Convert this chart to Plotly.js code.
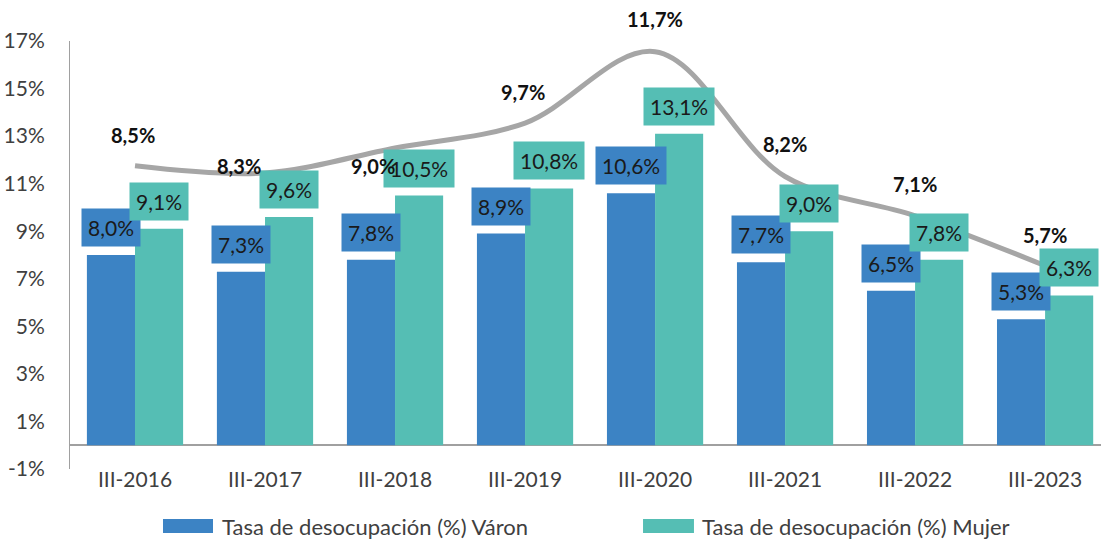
<!DOCTYPE html>
<html>
<head>
<meta charset="utf-8">
<script src="https://cdn.plot.ly/plotly-3.0.1.min.js"></script>
<style>
html,body{margin:0;padding:0;background:#ffffff;}
#chart{width:1101px;height:541px;}
</style>
</head>
<body>
<div id="chart"></div>
<script>
// ---- data ----
const categories = ['III-2016','III-2017','III-2018','III-2019','III-2020','III-2021','III-2022','III-2023'];
const varon = [8.0, 7.3, 7.8, 8.9, 10.6, 7.7, 6.5, 5.3];
const mujer = [9.1, 9.6, 10.5, 10.8, 13.1, 9.0, 7.8, 6.3];
const total = [8.5, 8.3, 9.0, 9.7, 11.7, 8.2, 7.1, 5.7];
const seriesNames = ['Tasa de desocupación (%) Váron', 'Tasa de desocupación (%) Mujer'];
const yTickVals = [-1, 1, 3, 5, 7, 9, 11, 13, 15, 17];

// ---- styles ----
const FONT = 'Lato, "Open Sans", "DejaVu Sans", sans-serif';
const C_VARON = '#3C83C4';
const C_MUJER = '#55BEB4';
const C_LINE = '#A6A6A6';
const C_TEXT = '#404040';
// pixel offsets of the total-rate labels (x, y) relative to their line point
const totalLabelShift = [[-2,31],[-26,7],[-22,-18],[-2,31],[0,33],[0,33],[0,32],[0,31]];

const fmt = v => v.toFixed(1).replace('.', ',') + '%';

const traces = [
  {type:'bar', name:seriesNames[0], x:categories, y:varon, marker:{color:C_VARON}, showlegend:false, hoverinfo:'skip'},
  {type:'bar', name:seriesNames[1], x:categories, y:mujer, marker:{color:C_MUJER}, showlegend:false, hoverinfo:'skip'},
  {type:'scatter', mode:'lines', name:'Total', x:categories, y:total, yaxis:'y2',
   line:{color:C_LINE, width:5, shape:'spline', smoothing:1}, showlegend:false, hoverinfo:'skip'}
];

const annotations = [];
categories.forEach((c, i) => {
  annotations.push({x:c, y:varon[i], xref:'x', yref:'y', xshift:-24, yshift:8, yanchor:'bottom', xanchor:'center',
    text:fmt(varon[i]), showarrow:false, bgcolor:C_VARON, borderpad:6,
    font:{family:FONT, size:21, color:'#1a1a1a'}});
  annotations.push({x:c, y:mujer[i], xref:'x', yref:'y', xshift:24, yshift:8, yanchor:'bottom', xanchor:'center',
    text:fmt(mujer[i]), showarrow:false, bgcolor:C_MUJER, borderpad:6,
    font:{family:FONT, size:21, color:'#1a1a1a'}});
  annotations.push({x:c, y:total[i], xref:'x', yref:'y2', xshift:totalLabelShift[i][0], yshift:totalLabelShift[i][1],
    yanchor:'middle', xanchor:'center', text:'<b>'+fmt(total[i])+'</b>', showarrow:false,
    font:{family:FONT, size:20, color:'#111111'}});
});

// custom legend (wide colour keys as in the reference)
const legendItems = [
  {x0:0.0902, x1:0.1387, tx:0.1455, color:C_VARON, text:seriesNames[0]},
  {x0:0.5558, x1:0.6052, tx:0.6115, color:C_MUJER, text:seriesNames[1]}
];
const shapes = [];
legendItems.forEach(it => {
  shapes.push({type:'rect', xref:'paper', yref:'paper', x0:it.x0, x1:it.x1, y0:-0.1495, y1:-0.1168,
    fillcolor:it.color, line:{width:0}});
  annotations.push({xref:'paper', yref:'paper', x:it.tx, y:-0.1332, xanchor:'left', yanchor:'middle',
    text:it.text, showarrow:false, font:{family:FONT, size:22, color:C_TEXT}});
});

const layout = {
  width:1101, height:541,
  margin:{l:70, r:0, t:41, b:72},
  paper_bgcolor:'#ffffff', plot_bgcolor:'#ffffff',
  font:{family:FONT, size:20, color:C_TEXT},
  barmode:'group', bargap:0.26, bargroupgap:0,
  showlegend:false,
  xaxis:{type:'category', range:[-0.5, 7.43], showline:false, showgrid:false, zeroline:false,
    ticks:'', ticklabelstandoff:-4, tickfont:{family:FONT, size:21, color:C_TEXT}, fixedrange:true},
  yaxis:{range:[-1, 17], tickvals:yTickVals, ticktext:yTickVals.map(v => v + '%'),
    showgrid:false, showline:true, linecolor:'#A0A0A0', linewidth:1,
    zeroline:true, zerolinecolor:'#A0A0A0', zerolinewidth:1.5,
    ticks:'outside', ticklen:20, tickcolor:'rgba(0,0,0,0)',
    tickfont:{family:FONT, size:21, color:C_TEXT}, fixedrange:true},
  yaxis2:{range:[0, 12], overlaying:'y', side:'right', visible:false, fixedrange:true},
  annotations:annotations,
  shapes:shapes
};

Plotly.newPlot('chart', traces, layout, {displayModeBar:false, staticPlot:true});
</script>
</body>
</html>
